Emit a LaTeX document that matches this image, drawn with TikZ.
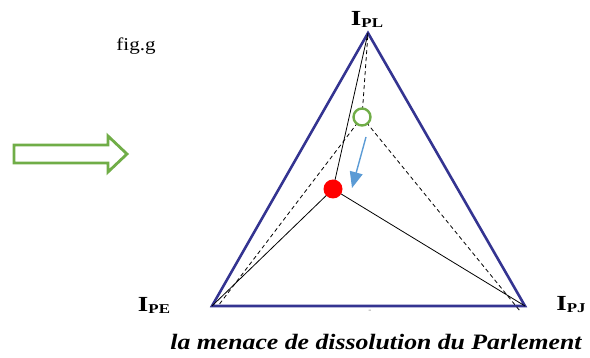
\documentclass[tikz,border=0pt]{standalone}
\usepackage{fontspec}
\setmainfont[FakeStretch=1.17]{Liberation Serif}
\newfontfamily\lblfont[FakeStretch=1.25]{Liberation Serif}
\usetikzlibrary{arrows.meta}
\definecolor{triblue}{RGB}{52,52,145}
\definecolor{ggreen}{RGB}{112,173,71}
\definecolor{lblue}{RGB}{91,155,213}
\tikzset{
  tri/.style={draw=triblue, line width=2.6pt, line join=miter},
  solidl/.style={draw=black, line width=0.8pt},
  dashl/.style={draw=black, line width=0.8pt, dash pattern=on 4pt off 3pt},
  vlabel/.style={font=\lblfont\bfseries\fontsize{21.5}{23}\selectfont, inner sep=0pt},
}
\newcommand{\sublbl}[1]{I\raisebox{-2pt}{\fontsize{13.5}{14}\selectfont #1}}
\begin{document}
\begin{tikzpicture}[x=1pt,y=-1pt]
\useasboundingbox (0,0) rectangle (590,358);
% triangle vertices
\coordinate (A) at (368,33);
\coordinate (B) at (212,306);
\coordinate (C) at (525,306);
\draw[tri] (A) -- (B) -- (C) -- cycle;
% points
\coordinate (R) at (333,189);
\coordinate (G) at (362,117);
\coordinate (Bd) at (218,306);
\coordinate (Cd) at (520,311);
\draw[dashl] (G) -- (A);
\draw[dashl] (G) -- (Bd);
\draw[dashl] (G) -- (Cd);
\draw[solidl] (R) -- (A);
\draw[solidl] (R) -- (B);
\draw[solidl] (R) -- (C);
\node[circle, draw=ggreen, line width=2.4pt, fill=white, minimum size=17pt, inner sep=0pt] (gc) at (G) {};
\node[circle, fill=red, minimum size=19pt, inner sep=0pt] (rc) at (R) {};
% blue arrow
\coordinate (ba1) at (366,137);
\coordinate (ba2) at (352,188);
\draw[draw=lblue, line width=1.4pt, -{Triangle[length=16pt,width=13pt]}] (ba1) -- (ba2);
% green block arrow
\draw[draw=ggreen, line width=2.8pt, line join=miter, fill=white]
  (14,145) -- (108,145) -- (108,136) -- (127,154) -- (108,172) -- (108,163) -- (14,163) -- cycle;
% labels
\node[vlabel] (lpl) at (367,19) {\sublbl{PL}};
\node[vlabel] (lpe) at (154,305) {\sublbl{PE}};
\node[vlabel] (lpj) at (571,305) {\sublbl{PJ}};
\node[font=\fontsize{18}{19}\selectfont, inner sep=0pt] (fig) at (136,46) {fig.g};
\node[font=\fontsize{8}{8}\selectfont, text=gray, inner sep=0pt] (dash) at (370,311) {-};
\node[font=\bfseries\itshape\fontsize{22}{24}\selectfont, inner sep=0pt] (cap) at (376,342) {la menace de dissolution du Parlement};
\end{tikzpicture}
\end{document}
